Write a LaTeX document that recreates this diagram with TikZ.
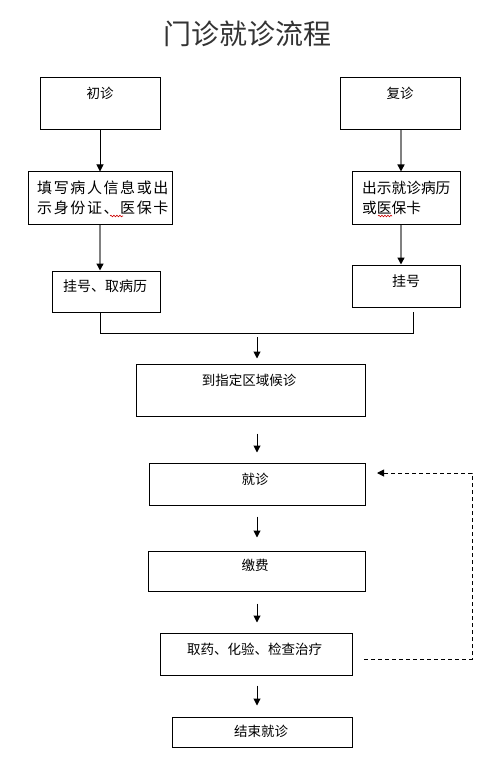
\documentclass[tikz,border=0pt]{standalone}
\usepackage{fontspec}
\setmainfont{Noto Sans CJK SC}
\usetikzlibrary{arrows.meta,decorations.pathmorphing}
\begin{document}
\begin{tikzpicture}[x=1pt,y=-1pt,
  box/.style={draw,line width=1pt,inner sep=0pt},
  lbl/.style={inner sep=0pt,font=\fontsize{13.5}{16}\selectfont},
  lbll/.style={inner sep=0pt,anchor=west,font=\fontsize{15}{18}\selectfont},
  arr/.style={line width=1pt,-{Triangle[length=7pt,width=7pt]}},
  garr/.style={line width=1.4pt,draw=black!50,-{Triangle[length=7pt,width=7pt,color=black,fill=black]}},
  flow/.style={line width=1pt},
  dsh/.style={line width=1pt,dash pattern=on 4pt off 3pt,-{Triangle[length=7pt,width=7pt]}},
  squig/.style={draw=red!80!black,line width=0.6pt,decorate,decoration={snake,amplitude=0.8pt,segment length=3pt}}]
\useasboundingbox (0,0) rectangle (499,770);
\fill[white] (0,0) rectangle (499,770);

% title
\node[inner sep=0pt,text=black!80,font=\fontsize{28}{32}\selectfont\addfontfeatures{}] (title) at (247,34) {门诊就诊流程};

% boxes
\node[box,minimum width=120pt,minimum height=52pt] (chu) at (100,104) {};
\node[box,minimum width=120pt,minimum height=52pt] (fu) at (400,104) {};
\node[box,minimum width=144pt,minimum height=52pt] (tian) at (100,198) {};
\node[box,minimum width=108pt,minimum height=52pt] (chushi) at (406,198) {};
\node[box,minimum width=108pt,minimum height=41pt] (gh1) at (106,291.5) {};
\node[box,minimum width=108pt,minimum height=42pt] (gh2) at (406,286) {};
\node[box,minimum width=229pt,minimum height=52pt] (wait) at (250.5,390) {};
\node[box,minimum width=216pt,minimum height=42pt] (jz) at (257,484) {};
\node[box,minimum width=217pt,minimum height=40pt] (jf) at (256.5,571) {};
\node[box,minimum width=192pt,minimum height=42pt] (qy) at (256,654) {};
\node[box,minimum width=180pt,minimum height=30pt] (end) at (262,732) {};

% labels
\node[lbl] (tchu) at (100,93) {初诊};
\node[lbl] (tfu) at (400,93) {复诊};
\node[lbll] (ttian1) at (37,188) {填\kern1.6pt 写\kern1.6pt 病\kern1.6pt 人\kern1.6pt 信\kern1.6pt 息\kern1.6pt 或\kern1.6pt 出};
\node[lbll] (ttian2) at (37,208) {示\kern1.6pt 身\kern1.6pt 份\kern1.6pt 证\kern1.6pt 、\kern1.6pt 医\kern1.6pt 保\kern1.6pt 卡};
\node[lbll,font=\fontsize{14.7}{18}\selectfont] (tcs1) at (362,188) {出示就诊病历};
\node[lbll,font=\fontsize{14.7}{18}\selectfont] (tcs2) at (362,208) {或医保卡};
\node[lbl,font=\fontsize{14}{17}\selectfont] (tgh1) at (105,286) {挂号、取病历};
\node[lbl,font=\fontsize{14}{17}\selectfont] (tgh2) at (406,281) {挂号};
\node[lbl] (twait) at (249,380) {到指定区域候诊};
\node[lbl] (tjz) at (255,479) {就诊};
\node[lbl] (tjf) at (255,565) {缴费};
\node[lbl] (tqy) at (254.5,649) {取药、化验、检查治疗};
\node[lbl] (tend) at (261,731.5) {结束就诊};

% spell-check squiggles
\coordinate (sq1a) at (110,216);
\coordinate (sq1b) at (123,216);
\coordinate (sq2a) at (378,216);
\coordinate (sq2b) at (392,216);
\draw[squig] (sq1a) -- (sq1b);
\draw[squig] (sq2a) -- (sq2b);

% top connectors
\draw[arr] (chu.south) -- (tian.north);
\draw[garr] (tian.south) -- (tian.south |- gh1.north);
\coordinate (rcol) at (401,0);
\draw[garr] (rcol |- fu.south) -- (rcol |- chushi.north);
\draw[garr] (rcol |- chushi.south) -- (rcol |- gh2.north);

% merge
\coordinate (mL) at (100,333);
\coordinate (mR) at (413,333);
\coordinate (rt) at (413,312);
\draw[flow] (tian.south |- gh1.south) -- (mL) -- (mR) -- (rt);

% main column arrows
\coordinate (col) at (257,0);
\draw[arr,shorten <=4pt,shorten >=5pt] (col |- mL) -- (col |- wait.north);
\draw[arr,shorten <=17pt,shorten >=10pt] (col |- wait.south) -- (col |- jz.north);
\draw[arr,shorten <=11pt,shorten >=13pt] (col |- jz.south) -- (col |- jf.north);
\draw[arr,shorten <=12pt,shorten >=10pt] (col |- jf.south) -- (col |- qy.north);
\draw[arr,shorten <=10pt,shorten >=11pt] (col |- qy.south) -- (col |- end.north);

% dashed feedback
\coordinate (ds) at (364,659);
\coordinate (dc) at (472,473);
\coordinate (de) at (377,473);
\draw[dsh] (ds) -| (dc) -- (de);
\end{tikzpicture}
\end{document}
